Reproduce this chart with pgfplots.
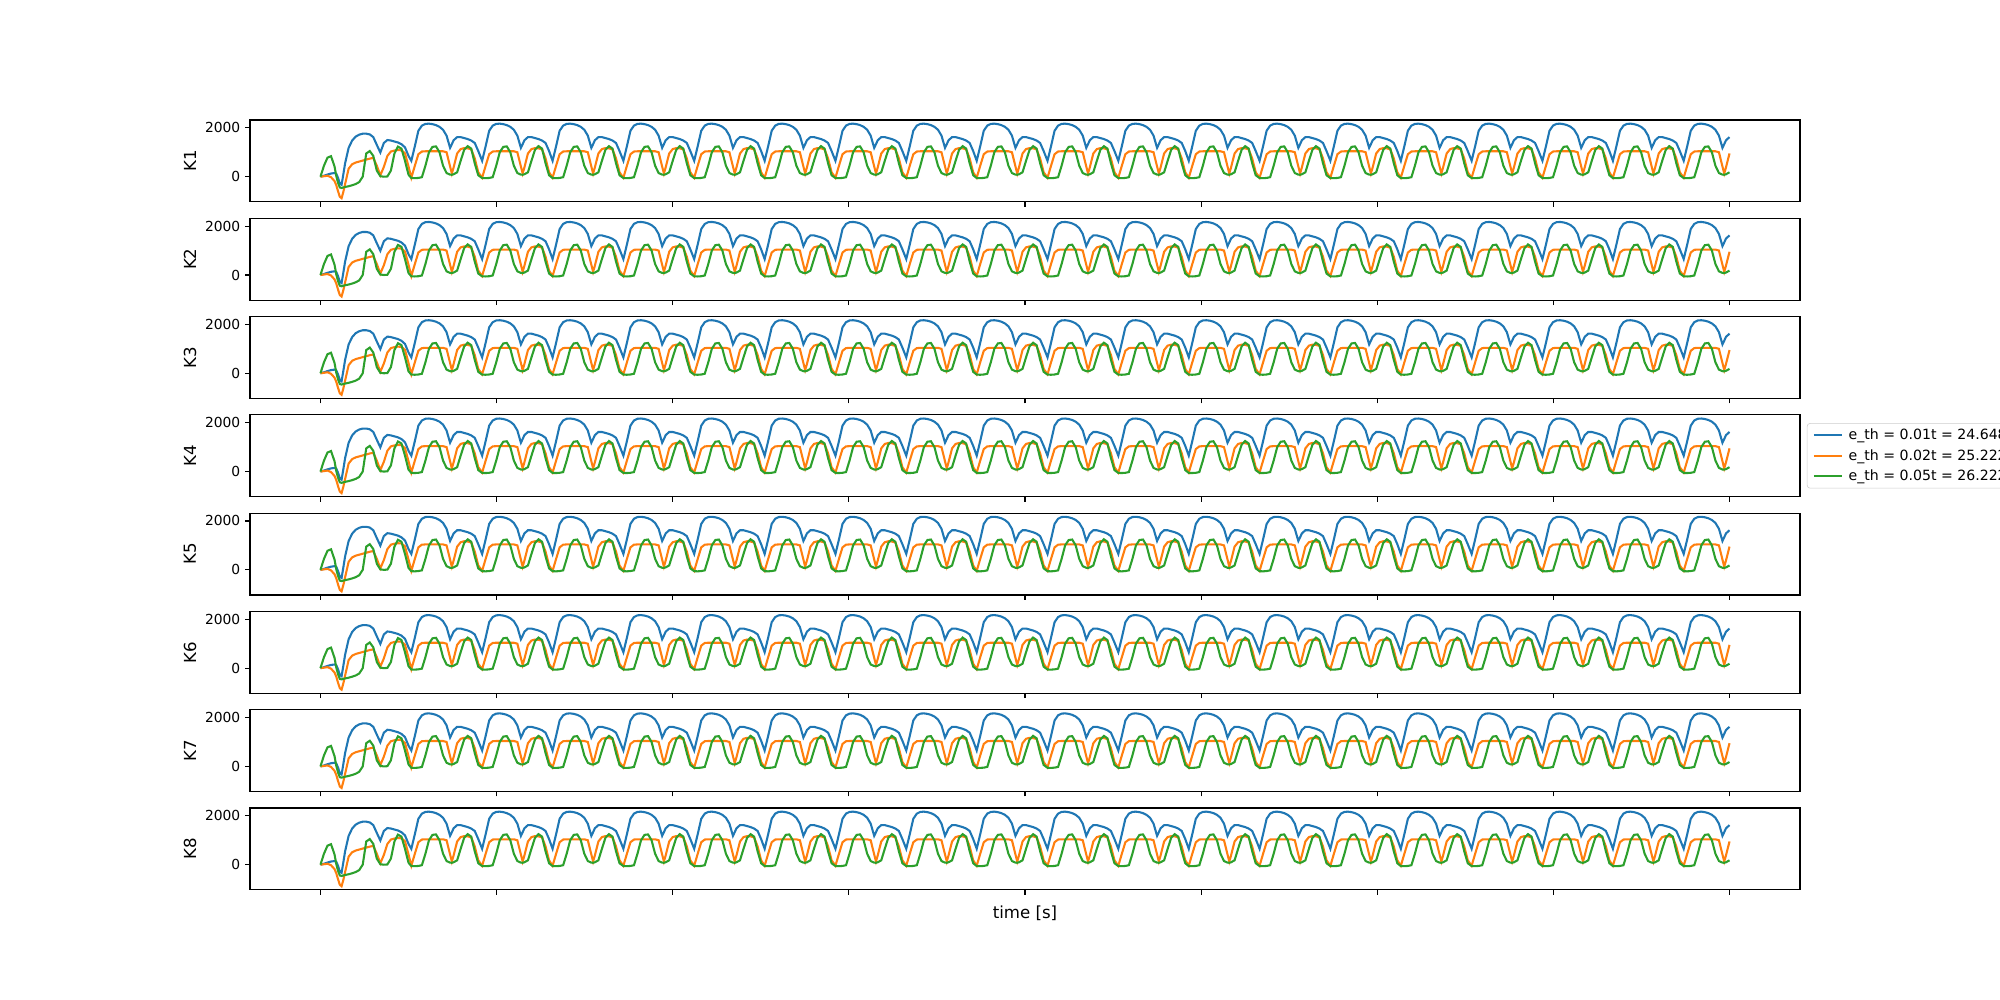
\documentclass[border=0pt]{standalone}
\usepackage{pgfplots}
\usepackage{pgfplotstable}
\pgfplotsset{compat=1.18}
\usepackage{fontspec}
\setmainfont{DejaVu Sans}
\definecolor{c0}{HTML}{1F77B4}
\definecolor{c1}{HTML}{FF7F0E}
\definecolor{c2}{HTML}{2CA02C}
\pgfplotstableread{
t b o g
0.0 0 0 0
0.1 40 20 450
0.2 90 40 780
0.3 130 -20 840
0.4 150 -180 420
0.45 120 -350 20
0.5 -50 -600 -250
0.55 -280 -820 -440
0.6 -330 -880 -460
0.65 100 -620 -440
0.7 550 -300 -420
0.8 1180 330 -390
0.9 1480 510 -350
1.0 1640 580 -300
1.1 1720 620 -220
1.2 1760 660 0
1.3 1760 700 950
1.4 1730 740 1050
1.5 1620 770 850
1.6 1300 450 250
1.7 990 60 20
1.8 1380 400 0
1.9 1500 850 10
2.0 1480 1030 250
2.1 1440 1070 950
2.2 1400 1090 1230
2.3 1330 1080 1150
2.4 1200 960 650
2.5 850 420 80
2.58 650 -40 -55
2.68 1250 450 -60
2.78 1880 920 -50
2.88 2090 1030 -20
2.98 2160 1040 450
3.08 2170 1040 1000
3.18 2150 1040 1220
3.28 2110 1040 1240
3.38 2040 1040 1000
3.48 1920 1040 450
3.58 1680 1000 150
3.68 1180 420 85
3.73 1330 130 80
3.78 1490 380 100
3.88 1620 950 180
3.98 1620 1130 650
4.08 1580 1170 1100
4.18 1540 1160 1250
4.28 1480 1120 1150
4.38 1380 750 550
4.48 1050 180 60
4.59 650 -40 -55
4.69 1250 450 -60
4.79 1880 920 -50
4.89 2090 1030 -20
4.99 2160 1040 450
5.09 2170 1040 1000
5.19 2150 1040 1220
5.29 2110 1040 1240
5.39 2040 1040 1000
5.49 1920 1040 450
5.59 1680 1000 150
5.69 1180 420 85
5.74 1330 130 80
5.79 1490 380 100
5.89 1620 950 180
5.99 1620 1130 650
6.09 1580 1170 1100
6.19 1540 1160 1250
6.29 1480 1120 1150
6.39 1380 750 550
6.49 1050 180 60
6.59 650 -40 -55
6.69 1250 450 -60
6.79 1880 920 -50
6.89 2090 1030 -20
6.99 2160 1040 450
7.09 2170 1040 1000
7.19 2150 1040 1220
7.29 2110 1040 1240
7.39 2040 1040 1000
7.49 1920 1040 450
7.59 1680 1000 150
7.69 1180 420 85
7.74 1330 130 80
7.79 1490 380 100
7.89 1620 950 180
7.99 1620 1130 650
8.09 1580 1170 1100
8.19 1540 1160 1250
8.29 1480 1120 1150
8.39 1380 750 550
8.49 1050 180 60
8.60 650 -40 -55
8.70 1250 450 -60
8.80 1880 920 -50
8.90 2090 1030 -20
9.00 2160 1040 450
9.10 2170 1040 1000
9.20 2150 1040 1220
9.30 2110 1040 1240
9.40 2040 1040 1000
9.50 1920 1040 450
9.60 1680 1000 150
9.70 1180 420 85
9.75 1330 130 80
9.80 1490 380 100
9.90 1620 950 180
10.00 1620 1130 650
10.10 1580 1170 1100
10.20 1540 1160 1250
10.30 1480 1120 1150
10.40 1380 750 550
10.50 1050 180 60
10.61 650 -40 -55
10.71 1250 450 -60
10.81 1880 920 -50
10.91 2090 1030 -20
11.01 2160 1040 450
11.11 2170 1040 1000
11.21 2150 1040 1220
11.31 2110 1040 1240
11.41 2040 1040 1000
11.51 1920 1040 450
11.61 1680 1000 150
11.71 1180 420 85
11.76 1330 130 80
11.81 1490 380 100
11.91 1620 950 180
12.01 1620 1130 650
12.11 1580 1170 1100
12.21 1540 1160 1250
12.31 1480 1120 1150
12.41 1380 750 550
12.51 1050 180 60
12.61 650 -40 -55
12.71 1250 450 -60
12.81 1880 920 -50
12.91 2090 1030 -20
13.01 2160 1040 450
13.11 2170 1040 1000
13.21 2150 1040 1220
13.31 2110 1040 1240
13.41 2040 1040 1000
13.51 1920 1040 450
13.61 1680 1000 150
13.71 1180 420 85
13.76 1330 130 80
13.81 1490 380 100
13.91 1620 950 180
14.01 1620 1130 650
14.11 1580 1170 1100
14.21 1540 1160 1250
14.31 1480 1120 1150
14.41 1380 750 550
14.51 1050 180 60
14.62 650 -40 -55
14.72 1250 450 -60
14.82 1880 920 -50
14.92 2090 1030 -20
15.02 2160 1040 450
15.12 2170 1040 1000
15.22 2150 1040 1220
15.32 2110 1040 1240
15.42 2040 1040 1000
15.52 1920 1040 450
15.62 1680 1000 150
15.72 1180 420 85
15.77 1330 130 80
15.82 1490 380 100
15.92 1620 950 180
16.02 1620 1130 650
16.12 1580 1170 1100
16.22 1540 1160 1250
16.32 1480 1120 1150
16.42 1380 750 550
16.52 1050 180 60
16.63 650 -40 -55
16.73 1250 450 -60
16.83 1880 920 -50
16.93 2090 1030 -20
17.03 2160 1040 450
17.13 2170 1040 1000
17.23 2150 1040 1220
17.33 2110 1040 1240
17.43 2040 1040 1000
17.53 1920 1040 450
17.63 1680 1000 150
17.73 1180 420 85
17.78 1330 130 80
17.83 1490 380 100
17.93 1620 950 180
18.03 1620 1130 650
18.13 1580 1170 1100
18.23 1540 1160 1250
18.33 1480 1120 1150
18.43 1380 750 550
18.53 1050 180 60
18.63 650 -40 -55
18.73 1250 450 -60
18.83 1880 920 -50
18.93 2090 1030 -20
19.03 2160 1040 450
19.13 2170 1040 1000
19.23 2150 1040 1220
19.33 2110 1040 1240
19.43 2040 1040 1000
19.53 1920 1040 450
19.63 1680 1000 150
19.73 1180 420 85
19.78 1330 130 80
19.83 1490 380 100
19.93 1620 950 180
20.03 1620 1130 650
20.13 1580 1170 1100
20.23 1540 1160 1250
20.33 1480 1120 1150
20.43 1380 750 550
20.53 1050 180 60
20.64 650 -40 -55
20.74 1250 450 -60
20.84 1880 920 -50
20.94 2090 1030 -20
21.04 2160 1040 450
21.14 2170 1040 1000
21.24 2150 1040 1220
21.34 2110 1040 1240
21.44 2040 1040 1000
21.54 1920 1040 450
21.64 1680 1000 150
21.74 1180 420 85
21.79 1330 130 80
21.84 1490 380 100
21.94 1620 950 180
22.04 1620 1130 650
22.14 1580 1170 1100
22.24 1540 1160 1250
22.34 1480 1120 1150
22.44 1380 750 550
22.54 1050 180 60
22.65 650 -40 -55
22.75 1250 450 -60
22.85 1880 920 -50
22.95 2090 1030 -20
23.05 2160 1040 450
23.15 2170 1040 1000
23.25 2150 1040 1220
23.35 2110 1040 1240
23.45 2040 1040 1000
23.55 1920 1040 450
23.65 1680 1000 150
23.75 1180 420 85
23.80 1330 130 80
23.85 1490 380 100
23.95 1620 950 180
24.05 1620 1130 650
24.15 1580 1170 1100
24.25 1540 1160 1250
24.35 1480 1120 1150
24.45 1380 750 550
24.55 1050 180 60
24.65 650 -40 -55
24.75 1250 450 -60
24.85 1880 920 -50
24.95 2090 1030 -20
25.05 2160 1040 450
25.15 2170 1040 1000
25.25 2150 1040 1220
25.35 2110 1040 1240
25.45 2040 1040 1000
25.55 1920 1040 450
25.65 1680 1000 150
25.75 1180 420 85
25.80 1330 130 80
25.85 1490 380 100
25.95 1620 950 180
26.05 1620 1130 650
26.15 1580 1170 1100
26.25 1540 1160 1250
26.35 1480 1120 1150
26.45 1380 750 550
26.55 1050 180 60
26.66 650 -40 -55
26.76 1250 450 -60
26.86 1880 920 -50
26.96 2090 1030 -20
27.06 2160 1040 450
27.16 2170 1040 1000
27.26 2150 1040 1220
27.36 2110 1040 1240
27.46 2040 1040 1000
27.56 1920 1040 450
27.66 1680 1000 150
27.76 1180 420 85
27.81 1330 130 80
27.86 1490 380 100
27.96 1620 950 180
28.06 1620 1130 650
28.16 1580 1170 1100
28.26 1540 1160 1250
28.36 1480 1120 1150
28.46 1380 750 550
28.56 1050 180 60
28.67 650 -40 -55
28.77 1250 450 -60
28.87 1880 920 -50
28.97 2090 1030 -20
29.07 2160 1040 450
29.17 2170 1040 1000
29.27 2150 1040 1220
29.37 2110 1040 1240
29.47 2040 1040 1000
29.57 1920 1040 450
29.67 1680 1000 150
29.77 1180 420 85
29.82 1330 130 80
29.87 1490 380 100
29.97 1620 950 180
30.07 1620 1130 650
30.17 1580 1170 1100
30.27 1540 1160 1250
30.37 1480 1120 1150
30.47 1380 750 550
30.57 1050 180 60
30.67 650 -40 -55
30.77 1250 450 -60
30.87 1880 920 -50
30.97 2090 1030 -20
31.07 2160 1040 450
31.17 2170 1040 1000
31.27 2150 1040 1220
31.37 2110 1040 1240
31.47 2040 1040 1000
31.57 1920 1040 450
31.67 1680 1000 150
31.77 1180 420 85
31.82 1330 130 80
31.87 1490 380 100
31.97 1620 950 180
32.07 1620 1130 650
32.17 1580 1170 1100
32.27 1540 1160 1250
32.37 1480 1120 1150
32.47 1380 750 550
32.57 1050 180 60
32.68 650 -40 -55
32.78 1250 450 -60
32.88 1880 920 -50
32.98 2090 1030 -20
33.08 2160 1040 450
33.18 2170 1040 1000
33.28 2150 1040 1220
33.38 2110 1040 1240
33.48 2040 1040 1000
33.58 1920 1040 450
33.68 1680 1000 150
33.78 1180 420 85
33.83 1330 130 80
33.88 1490 380 100
33.98 1620 950 180
34.08 1620 1130 650
34.18 1580 1170 1100
34.28 1540 1160 1250
34.38 1480 1120 1150
34.48 1380 750 550
34.58 1050 180 60
34.69 650 -40 -55
34.79 1250 450 -60
34.89 1880 920 -50
34.99 2090 1030 -20
35.09 2160 1040 450
35.19 2170 1040 1000
35.29 2150 1040 1220
35.39 2110 1040 1240
35.49 2040 1040 1000
35.59 1920 1040 450
35.69 1680 1000 150
35.79 1180 420 85
35.84 1330 130 80
35.89 1490 380 100
35.99 1620 950 180
36.09 1620 1130 650
36.19 1580 1170 1100
36.29 1540 1160 1250
36.39 1480 1120 1150
36.49 1380 750 550
36.59 1050 180 60
36.69 650 -40 -55
36.79 1250 450 -60
36.89 1880 920 -50
36.99 2090 1030 -20
37.09 2160 1040 450
37.19 2170 1040 1000
37.29 2150 1040 1220
37.39 2110 1040 1240
37.49 2040 1040 1000
37.59 1920 1040 450
37.69 1680 1000 150
37.79 1180 420 85
37.84 1330 130 80
37.89 1490 380 100
37.99 1620 950 180
38.09 1620 1130 650
38.19 1580 1170 1100
38.29 1540 1160 1250
38.39 1480 1120 1150
38.49 1380 750 550
38.59 1050 180 60
38.70 650 -40 -55
38.80 1250 450 -60
38.90 1880 920 -50
39.00 2090 1030 -20
39.10 2160 1040 450
39.20 2170 1040 1000
39.30 2150 1040 1220
39.40 2110 1040 1240
39.50 2040 1040 1000
39.60 1920 1040 450
39.70 1680 1000 150
39.80 1180 420 85
39.85 1330 130 80
39.90 1490 380 100
40.00 1620 950 180
}\data
\pgfplotsset{
  panel/.style={
    scale only axis, width=15.5in, height=0.819in,
    anchor=north west,
    xmin=-2, xmax=42, ymin=-1030, ymax=2320,
    xtick={0,5,...,40}, xticklabels={}, ytick={0,2000},
    scaled y ticks=false,
    yticklabel style={/pgf/number format/1000 sep={}},
    /pgf/number format/assume math mode=true,
    tick align=outside, xtick pos=bottom, ytick pos=left,
    major tick length=3.5pt,
    every tick/.style={black, line width=0.8pt},
    axis line style={line width=0.8pt},
    tick label style={font=\fontsize{10}{12}\selectfont},
    every axis y label/.style={at={(axis description cs:-0.0387,0.5)}, rotate=90, anchor=center, font=\fontsize{12}{14}\selectfont},
    every axis plot/.append style={line width=1.5pt},
  }
}
\newcommand{\curves}{%
  \addplot[c0] table[x=t,y=b]{\data};
  \addplot[c1] table[x=t,y=o]{\data};
  \addplot[c2] table[x=t,y=g]{\data};
}
\begin{document}
\begin{tikzpicture}
\path[use as bounding box] (0,0) rectangle (20in,10in);
\clip (0,0) rectangle (20in,10in);
\begin{axis}[panel, at={(2.5in,8.8in)}, ylabel={K1}]
\curves
\end{axis}
\begin{axis}[panel, at={(2.5in,7.8171in)}, ylabel={K2}]
\curves
\end{axis}
\begin{axis}[panel, at={(2.5in,6.8343in)}, ylabel={K3}]
\curves
\end{axis}
\begin{axis}[panel, at={(2.5in,5.8514in)}, ylabel={K4},
  legend style={at={(axis description cs:1.0045,0.5)}, anchor=west, draw=black!20, rounded corners=2pt,
    font=\fontsize{10.2}{12}\selectfont, inner xsep=4pt, inner ysep=2pt, row sep=1.5pt},
  legend cell align=left,
  legend image code/.code={\draw[#1, line width=1.5pt] (0cm,0cm) -- (0.28in,0cm); \path (0.31in,0cm);}]
\curves
\addlegendentry{e\_th = 0.01t = 24.648}
\addlegendentry{e\_th = 0.02t = 25.222}
\addlegendentry{e\_th = 0.05t = 26.222}
\end{axis}
\begin{axis}[panel, at={(2.5in,4.8686in)}, ylabel={K5}]
\curves
\end{axis}
\begin{axis}[panel, at={(2.5in,3.8857in)}, ylabel={K6}]
\curves
\end{axis}
\begin{axis}[panel, at={(2.5in,2.9029in)}, ylabel={K7}]
\curves
\end{axis}
\begin{axis}[panel, at={(2.5in,1.92in)}, ylabel={K8}, xlabel={time [s]},
  xlabel style={at={(axis description cs:0.5,0)}, anchor=center, yshift=-0.23in, font=\fontsize{12}{14}\selectfont}]
\curves
\end{axis}
\end{tikzpicture}
\end{document}
